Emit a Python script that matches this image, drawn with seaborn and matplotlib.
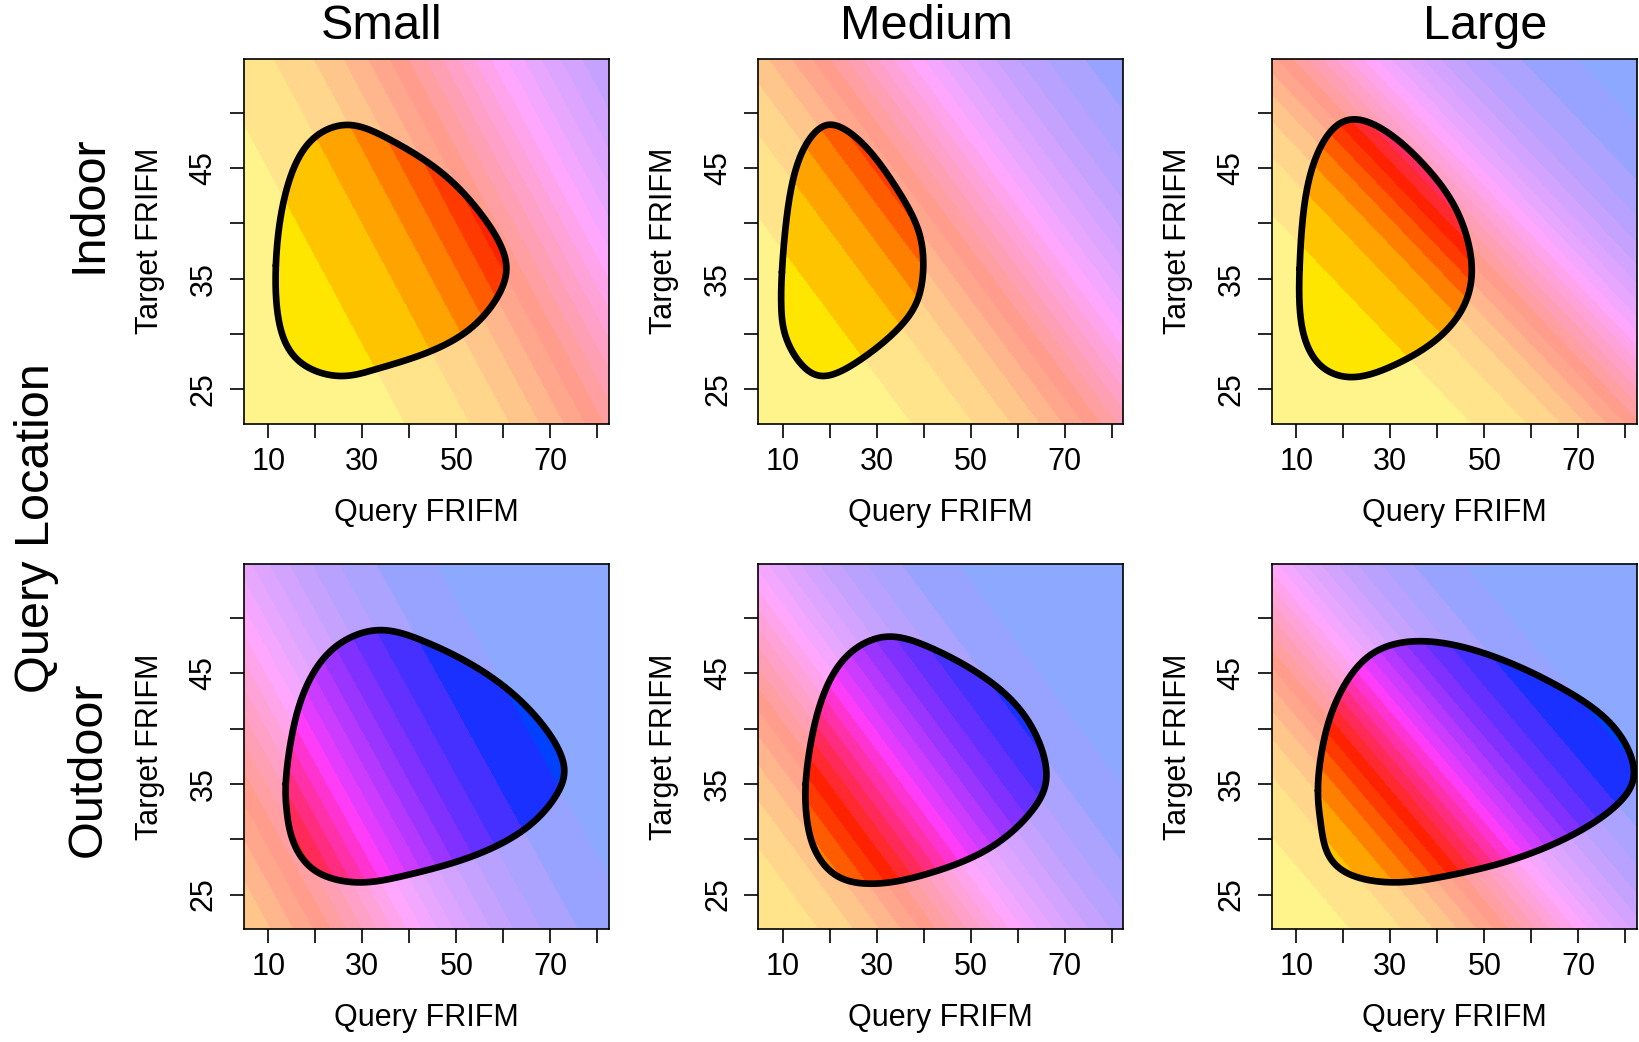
import numpy as np
import pandas as pd
import matplotlib
matplotlib.use("Agg")
import matplotlib.pyplot as plt
import seaborn as sns
from matplotlib.path import Path
from matplotlib.patches import PathPatch
from matplotlib.colors import to_rgb

# ---------------- data ----------------
size_labels = ["Small", "Medium", "Large"]
location_labels = ["Indoor", "Outdoor"]
row_title = "Query Location"
x_label = "Query FRIFM"
y_label = "Target FRIFM"

x_ticks = [10, 20, 30, 40, 50, 60, 70, 80]
x_ticklabels = ["10", "", "30", "", "50", "", "70", ""]
y_ticks = [25, 30, 35, 40, 45, 50]
y_ticklabels = ["25", "", "35", "", "45", ""]
x_range = [4.76, 82.4]
y_range = [21.9, 54.9]

# colour scale of the predicted probability (22 equal bins from 0 to 1)
palette = ["#FFE600", "#FFC400", "#FFA300", "#FF8000", "#FF5C00", "#FF3A00",
           "#FF2200", "#FF2A30", "#FF2A58", "#FF2C80", "#FF30A8", "#FF34D0",
           "#FF3CF8", "#E43CFF", "#CC3CFF", "#B438FF", "#9A34FF", "#8030FF",
           "#6430FF", "#4630FF", "#1A30FF", "#0040FF"]
outside_alpha = 0.45

# linear predictor per panel: intercept + b_query*x + b_target*y  (rows: Indoor, Outdoor)
intercepts = [[-6.64, -7.34, -9.15], [-3.785, -5.726, -7.45]]
slopes_query = [[0.0538, 0.0566, 0.0632], [0.0583, 0.0613, 0.0674]]
slopes_target = [[0.0680, 0.0990, 0.1420], [0.0758, 0.1067, 0.1348]]

# boundary of the data region (points along the outline) per panel
indoor_small_x = [11.6, 14.1, 19.4, 26.8, 35.3, 45.9, 54.4, 60.4, 59.3, 53.0, 43.1, 33.2, 25.4, 17.6, 13.0]
indoor_small_y = [36.2, 43.4, 47.6, 48.9, 47.7, 44.9, 41.3, 36.8, 33.8, 30.5, 28.2, 26.85, 26.2, 27.2, 29.9]
indoor_medium_x = [9.85, 11.3, 14.1, 17.6, 20.8, 26.8, 33.9, 38.5, 39.9, 38.8, 34.6, 26.8, 18.7, 14.1, 10.55, 9.7]
indoor_medium_y = [35.6, 41.9, 46.4, 48.5, 48.9, 47.3, 43.4, 39.8, 36.8, 33.2, 30.5, 27.75, 26.2, 27.2, 29.9, 32.6]
indoor_large_x = [10.7, 11.8, 14.6, 18.5, 22.7, 29.5, 38.0, 44.3, 47.3, 45.7, 40.1, 30.9, 21.7, 15.3, 11.8, 10.7]
indoor_large_y = [35.9, 41.9, 46.4, 48.8, 49.4, 48.2, 44.9, 41.0, 36.2, 32.6, 29.6, 27.2, 26.1, 27.1, 29.6, 32.6]
outdoor_small_x = [13.7, 15.2, 18.3, 24.0, 33.2, 43.1, 54.4, 65.8, 72.8, 71.4, 65.1, 53.0, 38.9, 29.0, 19.8, 15.2, 13.9]
outdoor_small_y = [35.0, 39.8, 44.0, 47.3, 48.9, 47.9, 45.5, 41.6, 36.8, 34.1, 31.1, 28.4, 26.7, 26.1, 27.2, 29.9, 32.6]
outdoor_medium_x = [14.9, 16.2, 19.0, 24.0, 31.8, 41.0, 53.0, 62.2, 66.1, 63.6, 54.4, 41.0, 30.4, 21.9, 16.9, 15.1]
outdoor_medium_y = [35.0, 39.2, 43.4, 46.7, 48.3, 47.4, 44.6, 40.7, 35.9, 32.9, 29.3, 26.9, 26.0, 26.6, 29.0, 32.0]
outdoor_large_x = [14.6, 15.7, 18.85, 25.9, 37.2, 52.1, 66.3, 77.6, 81.8, 79.7, 70.5, 55.6, 42.2, 30.9, 21.0, 16.7, 15.2]
outdoor_large_y = [34.4, 38.6, 42.8, 46.7, 47.9, 46.5, 43.7, 40.1, 36.2, 33.8, 30.8, 28.1, 26.7, 26.1, 26.9, 28.7, 31.4]

hulls = [[(indoor_small_x, indoor_small_y), (indoor_medium_x, indoor_medium_y), (indoor_large_x, indoor_large_y)],
         [(outdoor_small_x, outdoor_small_y), (outdoor_medium_x, outdoor_medium_y), (outdoor_large_x, outdoor_large_y)]]


# ---------------- helpers ----------------
def closed_spline(xs, ys, n=40, sx=4.71, sy=11.09):
    """Periodic interpolating cubic spline through the outline points."""
    P = np.column_stack([xs, ys]).astype(float)
    m = len(P)
    Q = np.roll(P, -1, axis=0)
    hseg = np.hypot((Q[:, 0] - P[:, 0]) * sx, (Q[:, 1] - P[:, 1]) * sy)
    hseg = np.sqrt(hseg)  # centripetal-like parameterisation
    A = np.zeros((m, m))
    B = np.zeros((m, 2))
    for i in range(m):
        hp = hseg[(i - 1) % m]
        hi = hseg[i]
        A[i, (i - 1) % m] += hp
        A[i, i] += 2 * (hp + hi)
        A[i, (i + 1) % m] += hi
        B[i] = 6 * ((P[(i + 1) % m] - P[i]) / hi - (P[i] - P[(i - 1) % m]) / hp)
    M = np.linalg.solve(A, B)
    out = []
    for i in range(m):
        j = (i + 1) % m
        hi = hseg[i]
        t = np.linspace(0, hi, n, endpoint=False)[:, None]
        a = (hi - t) / hi
        b = t / hi
        seg = (a * P[i] + b * P[j]
               + ((a ** 3 - a) * M[i] + (b ** 3 - b) * M[j]) * hi ** 2 / 6.0)
        out.append(seg)
    out = np.vstack(out)
    out = np.vstack([out, out[:1]])
    return out[:, 0], out[:, 1]


faded = [tuple(outside_alpha * c + (1 - outside_alpha) for c in to_rgb(h)) for h in palette]
edges = np.linspace(0, 1, len(palette) + 1)

# ---------------- figure ----------------
sns.set_style("ticks")
plt.rcParams["font.family"] = ["Liberation Sans", "DejaVu Sans"]
plt.rcParams["text.color"] = "black"
plt.rcParams["axes.labelcolor"] = "black"
plt.rcParams["xtick.color"] = "black"
plt.rcParams["ytick.color"] = "black"

fig = plt.figure(figsize=(16.4, 10.42), dpi=100)
lefts = [0.1486, 0.4622, 0.7754]
bottoms = [0.5935, 0.1086]
w, h = 0.2226, 0.3503

gx = np.linspace(x_range[0], x_range[1], 400)
gy = np.linspace(y_range[0], y_range[1], 400)
GX, GY = np.meshgrid(gx, gy)

for r in range(2):
    for c in range(3):
        ax = fig.add_axes([lefts[c], bottoms[r], w, h])
        eta = intercepts[r][c] + slopes_query[r][c] * GX + slopes_target[r][c] * GY
        prob = 1.0 / (1.0 + np.exp(-eta))
        ax.contourf(GX, GY, prob, levels=edges, colors=faded, zorder=1)
        cs = ax.contourf(GX, GY, prob, levels=edges, colors=palette, zorder=2)
        hx, hy = hulls[r][c]
        sx, sy = closed_spline(hx, hy)
        clip = PathPatch(Path(np.column_stack([sx, sy])), transform=ax.transData)
        cs.set_clip_path(clip)
        df = pd.DataFrame({"query": sx, "target": sy})
        sns.lineplot(data=df, x="query", y="target", sort=False, estimator=None,
                     color="black", lw=4.8, ax=ax, zorder=5,
                     solid_joinstyle="round", solid_capstyle="round")
        ax.set_xlim(*x_range)
        ax.set_ylim(*y_range)
        ax.set_xticks(x_ticks)
        ax.set_xticklabels(x_ticklabels)
        ax.set_yticks(y_ticks)
        ax.set_yticklabels(y_ticklabels, rotation=90, va="center")
        ax.tick_params(direction="out", length=10, width=1.2, labelsize=22,
                       colors="black", labelcolor="black")
        ax.tick_params(axis="x", pad=7)
        ax.tick_params(axis="y", pad=8)
        ax.set_xlabel("")
        ax.set_ylabel("")
        for s in ax.spines.values():
            s.set_linewidth(1.2)
            s.set_color("black")
            s.set_zorder(6)
        ax.text(0.5, -0.244, x_label, transform=ax.transAxes, ha="center", va="center",
                fontsize=22, color="black")
        ax.text(-0.257, 0.5, y_label, transform=ax.transAxes, ha="center", va="center",
                rotation=90, fontsize=22, color="black")

title_x = [0.233, 0.565, 0.9055]
for c in range(3):
    fig.text(title_x[c], 0.975, size_labels[c], ha="center", va="center", fontsize=35, color="black")

fig.text(0.054, 0.804, location_labels[0], rotation=90, ha="center", va="center", fontsize=35, color="black")
fig.text(0.054, 0.262, location_labels[1], rotation=90, ha="center", va="center", fontsize=35, color="black")
fig.text(0.0223, 0.493, row_title, rotation=90, ha="center", va="center", fontsize=35, color="black")

fig.savefig("out.png", dpi=100)
